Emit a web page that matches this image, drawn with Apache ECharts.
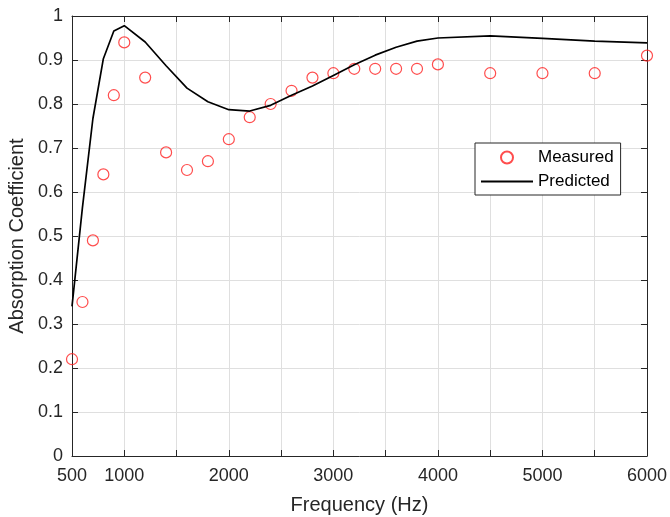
<!DOCTYPE html>
<html>
<head>
<meta charset="utf-8">
<script src="https://cdn.jsdelivr.net/npm/echarts@6/dist/echarts.min.js"></script>
<style>
html, body { margin: 0; padding: 0; background: #fff; }
#chartmain { width: 670px; height: 517px; }
</style>
</head>
<body>
<div id="chartmain"></div>
<script>
// frequencies (Hz)
var freq = [500, 600, 700, 800, 900, 1000, 1200, 1400, 1600, 1800, 2000, 2200, 2400,
            2600, 2800, 3000, 3200, 3400, 3600, 3800, 4000, 4500, 5000, 5500, 6000];
// measured absorption coefficient
var measured = [0.22, 0.35, 0.49, 0.64, 0.82, 0.94, 0.86, 0.69, 0.65, 0.67, 0.72, 0.77, 0.80,
                0.83, 0.86, 0.87, 0.88, 0.88, 0.88, 0.88, 0.89, 0.87, 0.87, 0.87, 0.91];
// predicted absorption coefficient
var predicted = [0.34, 0.565, 0.767, 0.903, 0.966, 0.978, 0.941, 0.887, 0.836, 0.805, 0.787, 0.784, 0.797,
                 0.82, 0.841, 0.865, 0.889, 0.911, 0.929, 0.943, 0.95, 0.955, 0.949, 0.943, 0.939];
// x tick labels that are shown
var xLabels = [500, 1000, 2000, 3000, 4000, 5000, 6000];

function pairs(xs, ys) {
    var out = [];
    for (var i = 0; i < xs.length; i++) out.push([xs[i], ys[i]]);
    return out;
}

var textColor = '#262626';
var fontName = 'Liberation Sans, Arial, sans-serif';
var gridColor = '#dfdfdf';

var myChart = echarts.init(document.getElementById('chartmain'));

var option = {
    animation: false,
    backgroundColor: '#fff',
    grid: { left: 72, right: 23, top: 16, bottom: 61, outerBoundsMode: 'none' },
    legend: {
        orient: 'vertical',
        left: 475,
        top: 143,
        padding: [6, 7, 5, 6],
        itemGap: 7,
        itemWidth: 52,
        itemHeight: 12,
        borderColor: textColor,
        borderWidth: 1,
        backgroundColor: '#fff',
        textStyle: { fontFamily: fontName, fontSize: 17, color: '#000' },
        data: [
            { name: 'Measured' },
            // plain line sample, no marker
            { name: 'Predicted', icon: 'path://M0,0M52,12M0,5.1H52V6.9H0Z' }
        ]
    },
    xAxis: [{
        type: 'value',
        min: 500,
        max: 6000,
        interval: 500,
        name: 'Frequency (Hz)',
        nameLocation: 'middle',
        nameGap: 39,
        nameTextStyle: { fontFamily: fontName, fontSize: 20, color: textColor },
        axisLine: { lineStyle: { color: textColor, width: 1 } },
        axisTick: { inside: true, length: 6, lineStyle: { color: textColor } },
        axisLabel: {
            margin: 11,
            fontFamily: fontName, fontSize: 18, color: textColor,
            formatter: function (v) { return xLabels.indexOf(v) >= 0 ? String(v) : ''; }
        },
        splitLine: { show: true, lineStyle: { color: gridColor, width: 1 } }
    }, {
        type: 'value',
        position: 'top',
        min: 500,
        max: 6000,
        interval: 500,
        axisLine: { show: true, onZero: false, lineStyle: { color: textColor, width: 1 } },
        axisTick: { show: true, inside: true, length: 6, lineStyle: { color: textColor } },
        axisLabel: { show: false },
        splitLine: { show: false }
    }],
    yAxis: [{
        type: 'value',
        min: 0,
        max: 1,
        interval: 0.1,
        name: 'Absorption Coefficient',
        nameLocation: 'middle',
        nameGap: 42,
        nameTextStyle: { fontFamily: fontName, fontSize: 20, color: textColor },
        axisLine: { show: true, lineStyle: { color: textColor, width: 1 } },
        axisTick: { show: true, inside: true, length: 6, lineStyle: { color: textColor } },
        axisLabel: { margin: 9, fontFamily: fontName, fontSize: 18, color: textColor },
        splitLine: { show: true, lineStyle: { color: gridColor, width: 1 } }
    }, {
        type: 'value',
        position: 'right',
        min: 0,
        max: 1,
        interval: 0.1,
        axisLine: { show: true, onZero: false, lineStyle: { color: textColor, width: 1 } },
        axisTick: { show: true, inside: true, length: 6, lineStyle: { color: textColor } },
        axisLabel: { show: false },
        splitLine: { show: false }
    }],
    series: [{
        name: 'Measured',
        type: 'scatter',
        symbol: 'circle',
        symbolSize: 11,
        itemStyle: { color: 'transparent', borderColor: '#ff2020', borderWidth: 1.2 },
        data: pairs(freq, measured),
        z: 3
    }, {
        name: 'Predicted',
        type: 'line',
        symbol: 'none',
        lineStyle: { color: '#000', width: 1.7 },
        itemStyle: { color: '#000' },
        data: pairs(freq, predicted),
        z: 4
    }]
};

myChart.setOption(option);
</script>
</body>
</html>
